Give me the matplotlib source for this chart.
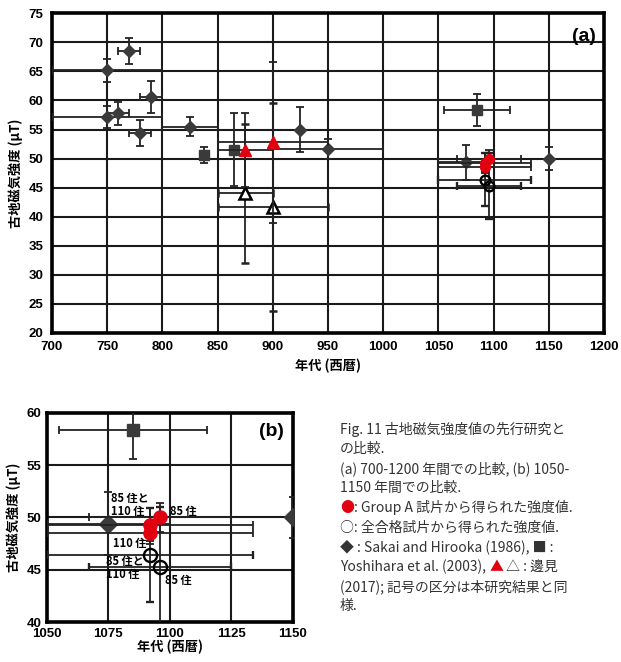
import matplotlib
matplotlib.use('Agg')
import matplotlib.pyplot as plt
from matplotlib.ticker import MultipleLocator
from matplotlib.offsetbox import TextArea, HPacker, AnnotationBbox

cjk = ['Noto Sans CJK JP', 'DejaVu Sans']
num = ['Liberation Sans', 'DejaVu Sans']

# Sakai and Hirooka (1986) - diamonds
sakai_year = [750, 750, 760, 770, 780, 790, 825, 925, 950, 1075, 1150]
sakai_int = [65.2, 57.1, 57.8, 68.5, 54.4, 60.6, 55.5, 55.0, 51.6, 49.4, 50.0]
sakai_xerr = [50, 50, 10, 10, 10, 10, 25, 0, 50, 25, 0]
sakai_yerr = [2.0, 1.9, 2.0, 2.3, 2.3, 2.8, 1.7, 3.8, 1.7, 3.0, 2.0]

# Yoshihara et al. (2003) - squares
yoshi_year = [838, 865, 1085]
yoshi_int = [50.6, 51.5, 58.35]
yoshi_xerr = [0, 0, 30]
yoshi_yerr = [1.4, 6.3, 2.8]

# Hemmi (2017) - triangles (red: group A, open: all passed)
hemmi_a_year = [875, 900]
hemmi_a_int = [51.5, 52.8]
hemmi_a_xerr = [25, 50]
hemmi_a_yerr = [6.4, 13.8]
hemmi_all_year = [875, 900]
hemmi_all_int = [44.0, 41.7]
hemmi_all_xerr = [25, 50]
hemmi_all_yerr = [12.0, 17.9]

# this study - circles
groupA_year = [1096, 1092, 1092]
groupA_int = [50.0, 49.3, 48.5]
groupA_xerr = [29, 42, 42]
groupA_yerr = [1.4, 1.6, 1.0]
allpass_year = [1092, 1096]
allpass_int = [46.4, 45.3]
allpass_xerr = [42, 29]
allpass_yerr = [4.5, 5.7]

# labels in panel (b)
lab_text = ['85 住と\n110 住', '85 住', '110 住', '85 住と\n110 住', '85 住']
lab_x = [1076, 1100, 1077, 1074, 1098]
lab_y = [51.15, 50.6, 47.5, 45.2, 44.0]

red = '#e00010'
gray = '#3a3a3a'


def draw(ax, ms, pad, lpad):
    eb = dict(ecolor='#222222', elinewidth=1.3, capsize=3, capthick=1.3, ls='none')
    ax.errorbar(sakai_year, sakai_int, xerr=sakai_xerr, yerr=sakai_yerr, fmt='D',
                color=gray, ms=6.5 * ms, zorder=4, **eb)
    ax.errorbar(yoshi_year, yoshi_int, xerr=yoshi_xerr, yerr=yoshi_yerr, fmt='s',
                color=gray, ms=6.5 * ms, zorder=4, **eb)
    ax.errorbar(hemmi_all_year, hemmi_all_int, xerr=hemmi_all_xerr, yerr=hemmi_all_yerr,
                fmt='^', mfc='white', mec='black', mew=1.8, ms=8 * ms, zorder=5, **eb)
    ax.errorbar(hemmi_a_year, hemmi_a_int, xerr=hemmi_a_xerr, yerr=hemmi_a_yerr,
                fmt='^', color=red, ms=8 * ms, zorder=6, **eb)
    ax.errorbar(allpass_year, allpass_int, xerr=allpass_xerr, yerr=allpass_yerr,
                fmt='o', mfc='none', mec='black', mew=1.7, ms=7 * ms, zorder=5, **eb)
    ax.errorbar(groupA_year, groupA_int, xerr=groupA_xerr, yerr=groupA_yerr,
                fmt='o', color=red, ms=7 * ms, zorder=6, **eb)
    for s in ax.spines.values():
        s.set_linewidth(2.6)
    ax.grid(True, color='#1a1a1a', lw=1.5, zorder=0)
    ax.set_axisbelow(True)
    ax.tick_params(length=0, pad=pad, labelsize=9.5)
    for t in ax.get_xticklabels() + ax.get_yticklabels():
        t.set_fontweight('bold')
        t.set_family(num)
    ax.set_xlabel('年代 (西暦)', family=cjk, fontweight='bold', fontsize=9.5, labelpad=lpad)
    ax.set_ylabel('古地磁気強度 (μT)', family=cjk, fontweight='bold', fontsize=9.5, labelpad=4)


fig = plt.figure(figsize=(6.21, 6.62), dpi=100)

ax1 = fig.add_axes([0.0837, 0.497, 0.889, 0.483])
ax1.set_xlim(700, 1200)
ax1.set_ylim(20, 75)
ax1.xaxis.set_major_locator(MultipleLocator(50))
ax1.yaxis.set_major_locator(MultipleLocator(5))
draw(ax1, 1.0, 6, 4)
ax1.text(0.985, 0.955, '(a)', transform=ax1.transAxes, ha='right', va='top',
         fontsize=14, fontweight='bold', family=num)

ax2 = fig.add_axes([0.0752, 0.0604, 0.396, 0.316])
ax2.set_xlim(1050, 1150)
ax2.set_ylim(40, 60)
ax2.xaxis.set_major_locator(MultipleLocator(25))
ax2.yaxis.set_major_locator(MultipleLocator(5))
draw(ax2, 1.35, 4, 0)
ax2.text(0.965, 0.95, '(b)', transform=ax2.transAxes, ha='right', va='top',
         fontsize=14, fontweight='bold', family=num)
for t, x, y in zip(lab_text, lab_x, lab_y):
    ax2.text(x, y, t, ha='left', va='center', fontsize=8, fontweight='bold',
             family=cjk, linespacing=1.0, zorder=7)

# caption
tc = '#333333'
caption = [
    [('Fig. 11 古地磁気強度値の先行研究と', tc)],
    [('の比較.', tc)],
    [('(a) 700-1200 年間での比較, (b) 1050-', tc)],
    [('1150 年間での比較.', tc)],
    [('●', red), (': Group A 試片から得られた強度値.', tc)],
    [('○: 全合格試片から得られた強度値.', tc)],
    [('◆ : Sakai and Hirooka (1986), ■ :', tc)],
    [('Yoshihara et al. (2003), ', tc), ('▲', red), (' △ : 邊見', tc)],
    [('(2017); 記号の区分は本研究結果と同', tc)],
    [('様.', tc)],
]
y0 = 662 - 429
for i, line in enumerate(caption):
    parts = [TextArea(s, textprops=dict(color=c, fontsize=10, family=cjk)) for s, c in line]
    box = HPacker(children=parts, align='baseline', pad=0, sep=0)
    ab = AnnotationBbox(box, (340, y0 - i * 19.7), xycoords='figure pixels',
                        box_alignment=(0, 0.5), frameon=False, pad=0)
    fig.add_artist(ab)

fig.savefig('out.png', dpi=100)
